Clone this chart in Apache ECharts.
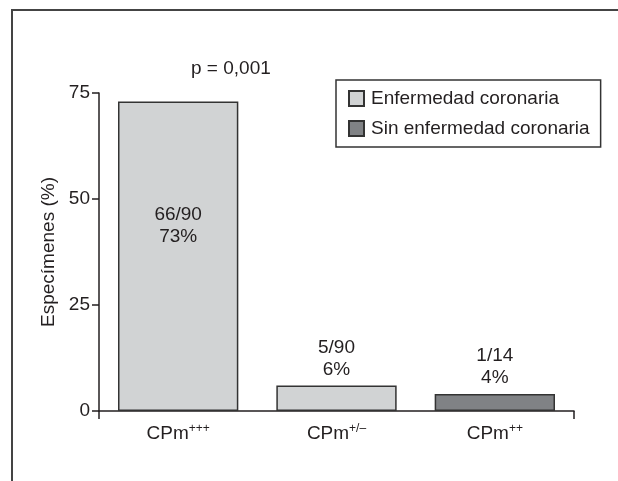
<!DOCTYPE html>
<html>
<head>
<meta charset="utf-8">
<script src="https://cdn.jsdelivr.net/npm/echarts@6/dist/echarts.min.js"></script>
<style>
  html, body { margin: 0; padding: 0; background: #fff; }
  #chart { width: 618px; height: 481px; }
</style>
</head>
<body>
<div id="chart"></div>
<script>
// data
var catBase = 'CPm';
var catSup = ['+++', '+/\u2013', '++'];
var seriesNames = ['Enfermedad coronaria', 'Sin enfermedad coronaria'];
var enfermedad = [73, 6, null];
var sinEnfermedad = [null, null, 4];
var fractions = ['66/90', '5/90', '1/14'];
var yTicks = [0, 25, 50, 75];
var pText = 'p = 0,001';

var categories = catSup.map(function (s) { return catBase + s; });

var font = '"Liberation Sans", Arial, sans-serif';
var ink = '#231f20';
var fs = 19;

function labelFor(values) {
    return values.map(function (v, i) {
        if (v == null) {
            return v;
        }
        // tall bar carries its label inside, short ones on top
        var item = { value: v };
        if (v > 50) {
            item.label = { position: ['50%', '40%'], align: 'center', verticalAlign: 'middle' };
        }
        return item;
    });
}

var barLabel = {
    show: true,
    position: 'top',
    distance: 5,
    color: ink,
    fontFamily: font,
    fontSize: fs,
    lineHeight: 22,
    formatter: function (p) {
        return fractions[p.dataIndex] + '\n' + p.value + '%';
    }
};

var myChart = echarts.init(document.getElementById('chart'));

var option = {
    animation: false,
    textStyle: { fontFamily: font, color: ink },
    title: {
        text: pText,
        left: 186,
        top: 54,
        textStyle: { fontFamily: font, fontSize: fs, fontWeight: 'normal', color: ink }
    },
    legend: {
        orient: 'vertical',
        left: 336,
        top: 80,
        padding: [9, 11, 9, 12],
        itemGap: 11,
        itemWidth: 15,
        itemHeight: 15,
        borderColor: '#333',
        borderWidth: 1.5,
        borderRadius: 0,
        icon: 'rect',
        textStyle: { fontFamily: font, fontSize: fs, color: ink, padding: [0, 0, 0, 2] },
        data: seriesNames
    },
    grid: { left: 99, right: 44, top: 93, bottom: 70, containLabel: false },
    xAxis: {
        type: 'category',
        data: categories,
        axisLine: { lineStyle: { color: ink, width: 1.5 } },
        axisTick: {
            show: true,
            length: 8,
            lineStyle: { color: ink, width: 1.5 },
            interval: function (index) { return index === 0; }
        },
        axisLabel: {
            margin: 12,
            color: ink,
            fontFamily: font,
            formatter: function (value) {
                return '{b|' + catBase + '}{s|' + value.slice(catBase.length) + '}';
            },
            rich: {
                b: { fontSize: fs, lineHeight: 22, color: ink, fontFamily: font },
                s: { fontSize: 12, lineHeight: 12, verticalAlign: 'top', color: ink, fontFamily: font }
            }
        }
    },
    yAxis: {
        type: 'value',
        min: yTicks[0],
        max: yTicks[yTicks.length - 1],
        interval: yTicks[1] - yTicks[0],
        name: 'Especímenes (%)',
        nameLocation: 'middle',
        nameGap: 39,
        nameTextStyle: { fontFamily: font, fontSize: fs, color: ink },
        splitLine: { show: false },
        axisLine: { show: true, lineStyle: { color: ink, width: 1.5 } },
        axisTick: { show: true, length: 7, lineStyle: { color: ink, width: 1.5 } },
        axisLabel: { margin: 9, fontFamily: font, fontSize: fs, color: ink }
    },
    series: [
        {
            name: seriesNames[0],
            type: 'bar',
            stack: 'all',
            barWidth: '76%',
            itemStyle: { color: '#d1d3d4', borderColor: '#333', borderWidth: 1.5 },
            label: barLabel,
            data: labelFor(enfermedad)
        },
        {
            name: seriesNames[1],
            type: 'bar',
            stack: 'all',
            barWidth: '76%',
            itemStyle: { color: '#808285', borderColor: '#333', borderWidth: 1.5 },
            label: barLabel,
            data: labelFor(sinEnfermedad)
        }
    ],
    graphic: [
        {
            // outer frame, only top and left edges fall inside the picture
            type: 'rect',
            silent: true,
            shape: { x: 12, y: 10, width: 700, height: 600 },
            style: { fill: 'none', stroke: '#444', lineWidth: 2 }
        }
    ]
};

myChart.setOption(option);
</script>
</body>
</html>
